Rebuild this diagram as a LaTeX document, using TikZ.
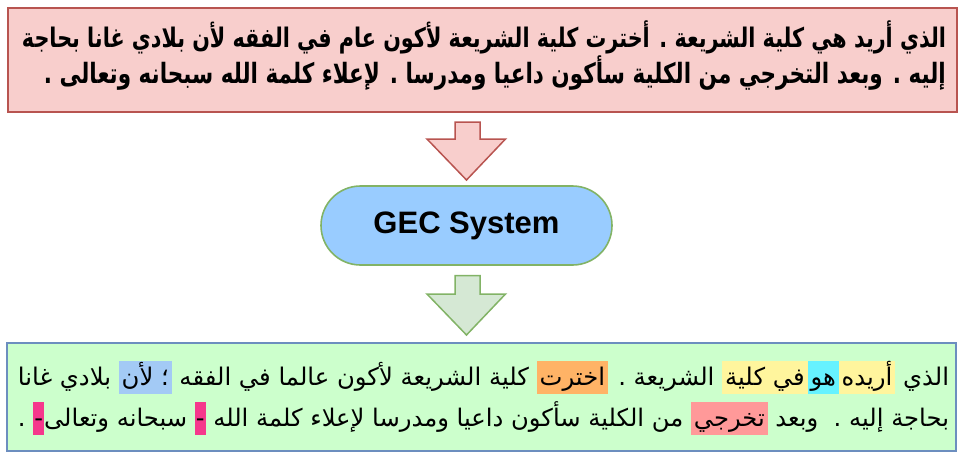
\documentclass[tikz,border=0pt]{standalone}
\usepackage{fontspec}
\usepackage{graphicx}
\usetikzlibrary{calc,shapes.misc}
\setmainfont{Liberation Sans}
\newfontfamily\arabicfont[Script=Arabic]{DejaVu Sans}
\TeXXeTstate=1
\definecolor{topfill}{HTML}{F8CECC}
\definecolor{topline}{HTML}{B85450}
\definecolor{botfill}{HTML}{CCFFCC}
\definecolor{botline}{HTML}{6C8EBF}
\definecolor{pillfill}{HTML}{99CCFF}
\definecolor{greenline}{HTML}{82B366}
\definecolor{greenfill}{HTML}{D5E8D4}
\definecolor{hly}{HTML}{FFF59D}
\definecolor{hlc}{HTML}{66F2FF}
\definecolor{hlo}{HTML}{FFB366}
\definecolor{hlb}{HTML}{A3CAF5}
\definecolor{hlp}{HTML}{FF9999}
\definecolor{hlm}{HTML}{F5388C}
% highlighted word; the box content is kept left-to-right (\beginL) so the
% colour specials stay in order inside a right-to-left line
\newcommand{\hlw}[3][0.12em]{\hbox{\beginL\setlength{\fboxsep}{0pt}\colorbox{#2}{\kern#1\rule[-0.36em]{0pt}{1.36em}\beginR#3\endR\kern#1}\endL}}
\tikzset{
  panel/.style={draw, line width=2pt, inner sep=0pt, outer sep=0pt},
  txtline/.style={inner sep=0pt, outer sep=0pt, anchor=base east},
  pill/.style={rounded rectangle, draw=greenline, fill=pillfill, line width=1.6pt,
    minimum width=291pt, minimum height=79pt, inner sep=0pt, outer sep=0pt,
    font=\fontsize{31}{36}\selectfont\bfseries},
  blockarrow/.style={line width=1.5pt, line join=miter},
}
\begin{document}
\begin{tikzpicture}[x=1pt,y=-1pt]
\useasboundingbox (0,0) rectangle (964,463);
% top box
\node[panel, draw=topline, fill=topfill, minimum width=949pt, minimum height=104pt] (top) at (482,59.5) {};
\node[txtline] (t1) at (946,47) {\scalebox{1}[1.3]{\resizebox{924pt}{!}{\fontsize{24}{28}\arabicfont\bfseries\beginR الذي أريد هي كلية الشريعة . أخترت كلية الشريعة لأكون عام في الفقه لأن بلادي غانا بحاجة\endR}}};
\node[txtline] (t2) at (946,83) {\scalebox{1}[1.3]{\resizebox{902pt}{!}{\fontsize{24}{28}\arabicfont\bfseries\beginR إليه . وبعد التخرجي من الكلية سأكون داعيا ومدرسا . لإعلاء كلمة الله سبحانه وتعالى .\endR}}};
% GEC pill
\node[pill] (gec) at (466.5,225.5) {GEC System};
% bottom box
\node[panel, draw=botline, fill=botfill, minimum width=949pt, minimum height=107.5pt] (bot) at (481.5,396.75) {};
\node[txtline] (b1) at (949,385) {\resizebox{931pt}{!}{\fontsize{24}{28}\arabicfont\beginR الذي \hlw{hly}{أريده}\hlw{hlc}{هو}\hlw{hly}{في كلية} الشريعة . \hlw{hlo}{اخترت} كلية الشريعة لأكون عالما في الفقه \hlw{hlb}{؛ لأن} بلادي غانا\endR}};
\node[txtline] (b2) at (949,426) {\resizebox{931pt}{!}{\fontsize{24}{28}\arabicfont\beginR بحاجة إليه .\ \ وبعد \hlw{hlp}{تخرجي} من الكلية سأكون داعيا ومدرسا لإعلاء كلمة الله \hlw[0.04em]{hlm}{-} سبحانه وتعالى\hlw[0.04em]{hlm}{-} .\endR}};
% block arrows
\draw[blockarrow, draw=topline, fill=topfill]
  ($(top.south)+(-27,10.5)$) -- ($(top.south)+(-2,10.5)$) -- ($(top.south)+(-2,27.5)$) -- ($(top.south)+(23.5,27.5)$)
  -- ($(gec.north)+(0,-6)$) -- ($(top.south)+(-55,27.5)$) -- ($(top.south)+(-27,27.5)$) -- cycle;
\draw[blockarrow, draw=greenline, fill=greenfill]
  ($(gec.south)+(-11.5,10.5)$) -- ($(gec.south)+(13.5,10.5)$) -- ($(gec.south)+(13.5,29)$) -- ($(gec.south)+(39,29)$)
  -- ($(bot.north)+(-15,-8)$) -- ($(gec.south)+(-39.5,29)$) -- ($(gec.south)+(-11.5,29)$) -- cycle;
\end{tikzpicture}
\end{document}
